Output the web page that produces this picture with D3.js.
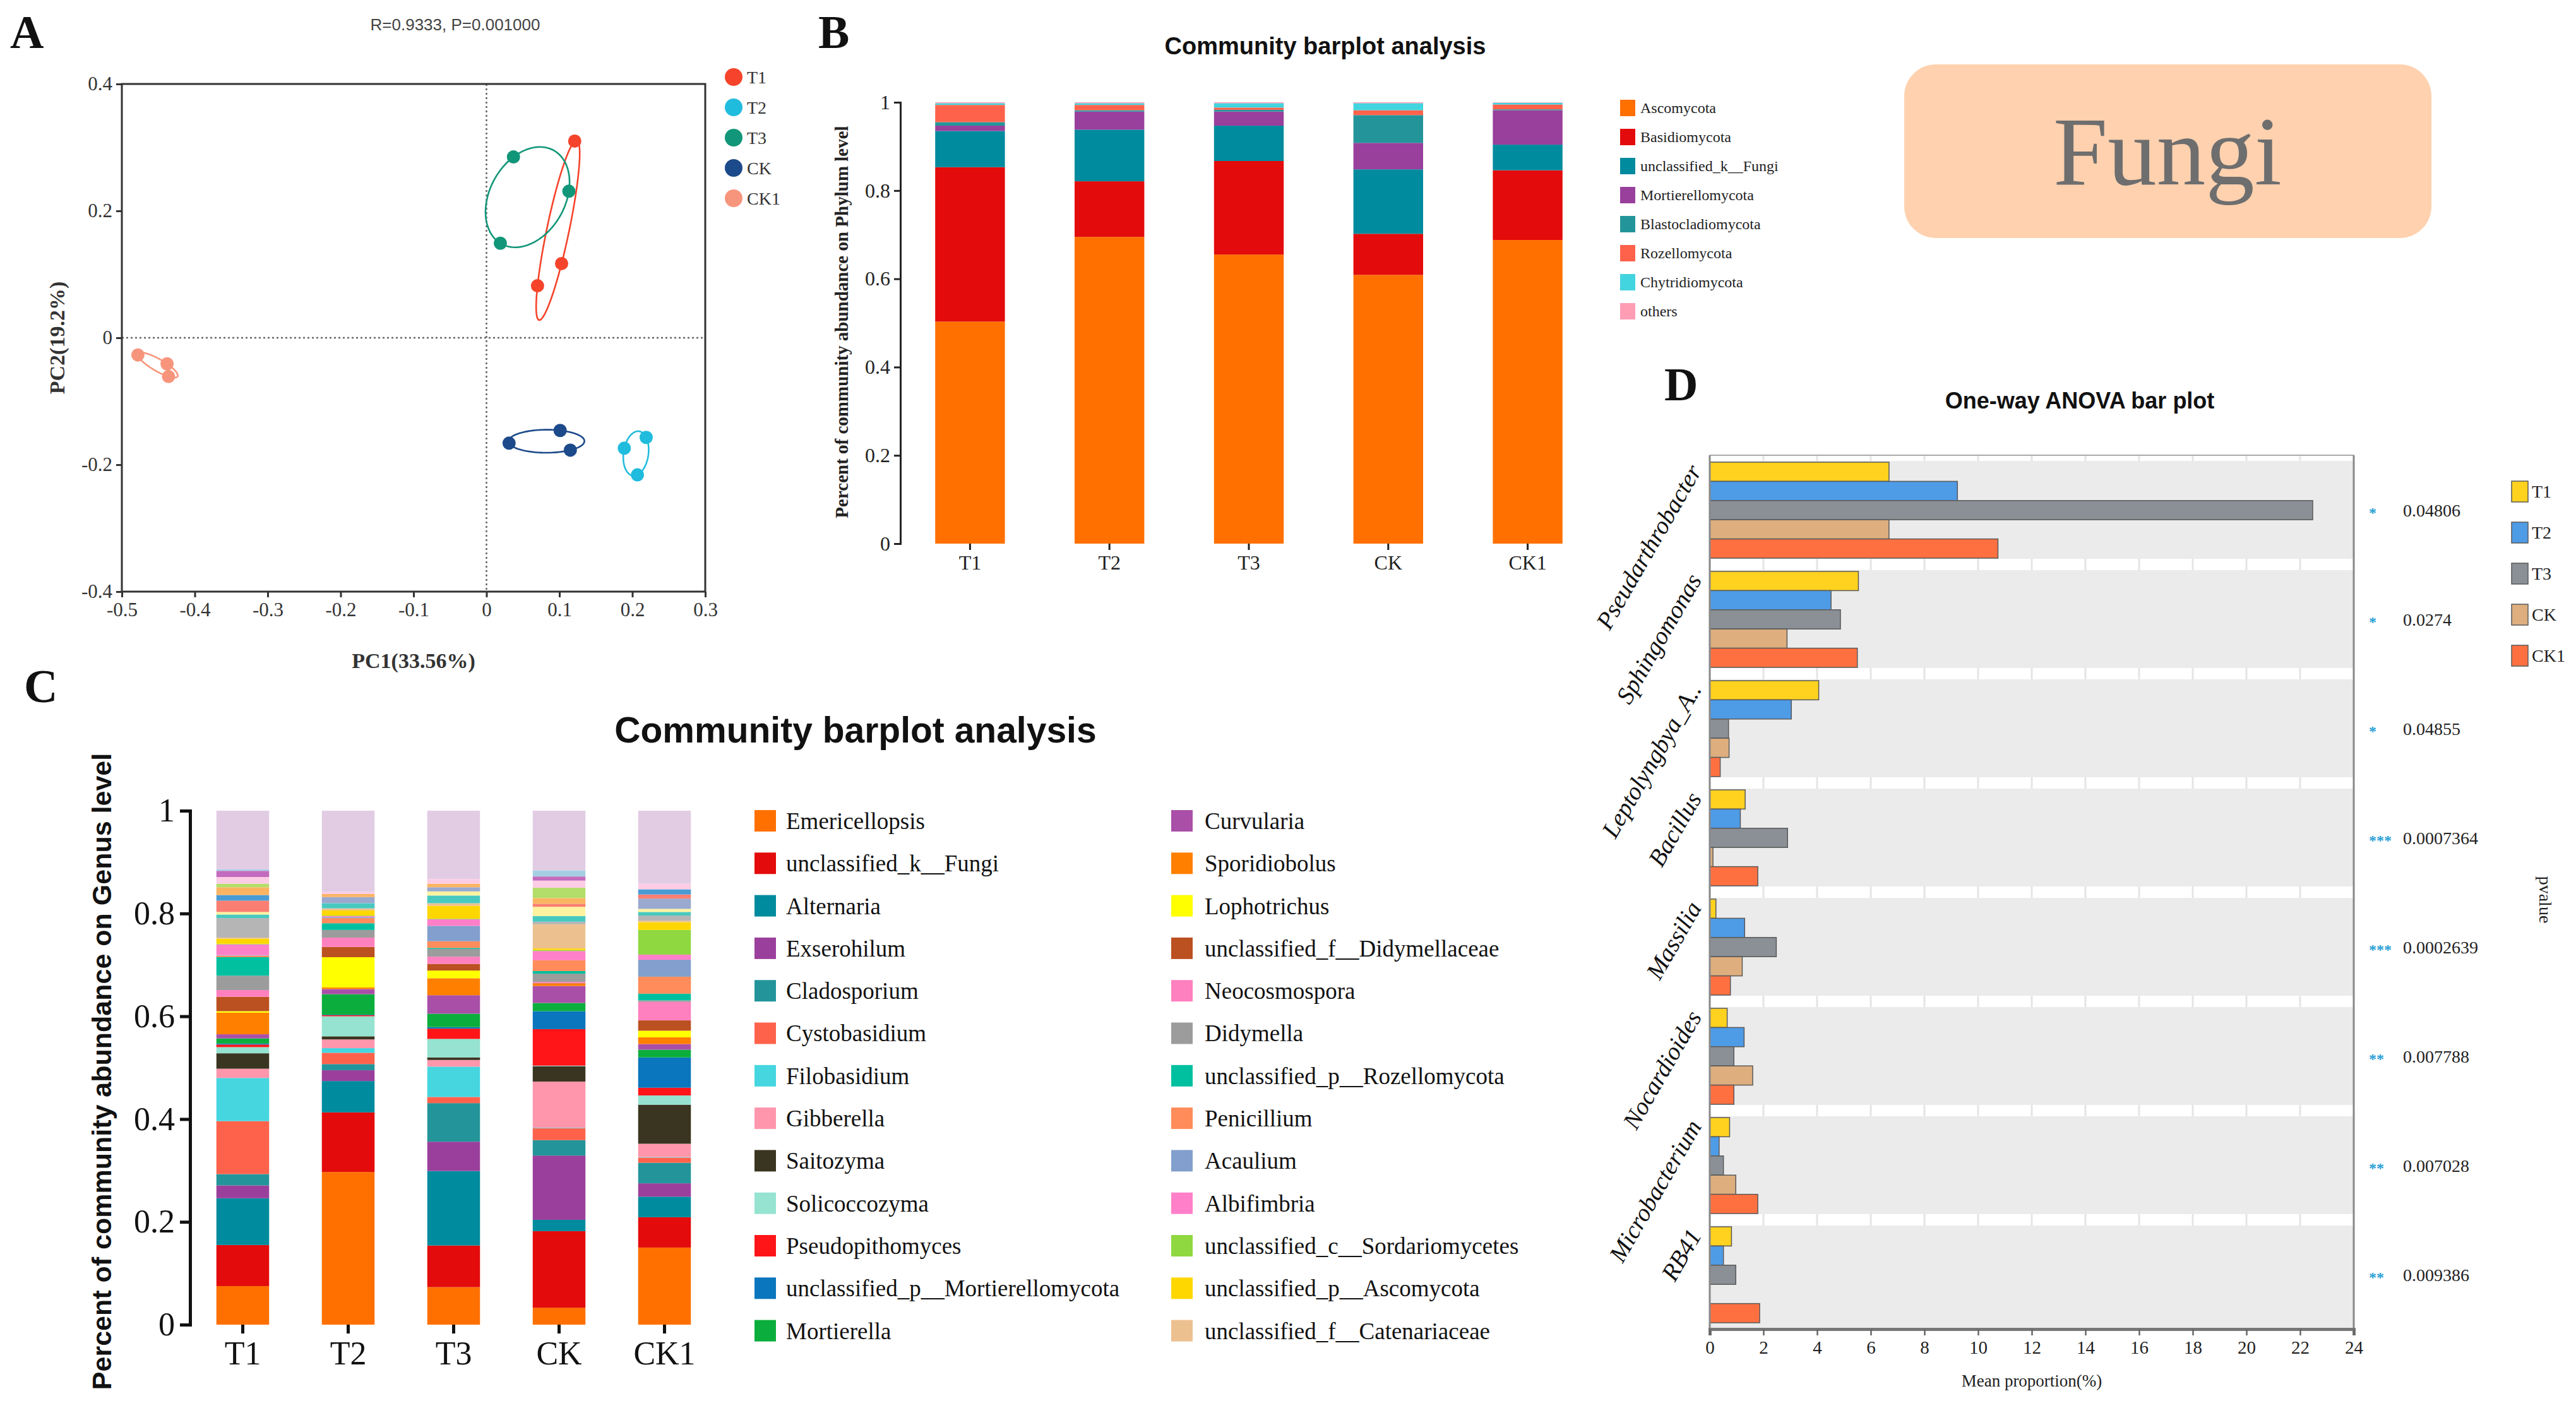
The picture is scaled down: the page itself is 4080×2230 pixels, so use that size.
<!DOCTYPE html>
<html><head><meta charset="utf-8">
<script src="https://cdn.jsdelivr.net/npm/d3@7"></script>
<style>html,body{margin:0;padding:0;background:#fff;} svg{display:block}</style>
</head><body>
<svg id="fig" width="4080" height="2230"></svg>
<script>
// ================= DATA =================
// Panel A: PCoA sample scores (PC1, PC2)
const pcaGroups = ["T1", "T2", "T3", "CK", "CK1"];
const pcaT1  = [[0.121, 0.310], [0.103, 0.117], [0.070, 0.082]];
const pcaT2  = [[0.189, -0.174], [0.219, -0.157], [0.207, -0.216]];
const pcaT3  = [[0.037, 0.285], [0.113, 0.231], [0.019, 0.149]];
const pcaCK  = [[0.031, -0.166], [0.101, -0.146], [0.115, -0.177]];
const pcaCK1 = [[-0.478, -0.027], [-0.438, -0.041], [-0.436, -0.061]];
const pcaTicksX = [-0.5, -0.4, -0.3, -0.2, -0.1, 0, 0.1, 0.2, 0.3];
const pcaTicksY = [-0.4, -0.2, 0, 0.2, 0.4];
const pcaTitle = "R=0.9333, P=0.001000";
const pcaXLabel = "PC1(33.56%)";
const pcaYLabel = "PC2(19.2%)";

// Panel B: phylum-level relative abundance
const samples = ["T1", "T2", "T3", "CK", "CK1"];
const phyla = ["Ascomycota", "Basidiomycota", "unclassified_k__Fungi", "Mortierellomycota",
  "Blastocladiomycota", "Rozellomycota", "Chytridiomycota", "others"];
const phylumT1  = [0.503, 0.350, 0.082, 0.012, 0.008, 0.039, 0.004, 0.002];
const phylumT2  = [0.695, 0.126, 0.117, 0.041, 0.003, 0.012, 0.004, 0.002];
const phylumT3  = [0.655, 0.212, 0.080, 0.032, 0.004, 0.005, 0.010, 0.002];
const phylumCK  = [0.609, 0.093, 0.146, 0.060, 0.063, 0.011, 0.016, 0.002];
const phylumCK1 = [0.688, 0.158, 0.058, 0.078, 0.002, 0.011, 0.004, 0.001];
const abundTicks = [0, 0.2, 0.4, 0.6, 0.8, 1];

// Panel C: genus-level relative abundance (26 legend genera)
const genera = ["Emericellopsis", "unclassified_k__Fungi", "Alternaria", "Exserohilum", "Cladosporium",
  "Cystobasidium", "Filobasidium", "Gibberella", "Saitozyma", "Solicoccozyma", "Pseudopithomyces",
  "unclassified_p__Mortierellomycota", "Mortierella", "Curvularia", "Sporidiobolus", "Lophotrichus",
  "unclassified_f__Didymellaceae", "Neocosmospora", "Didymella", "unclassified_p__Rozellomycota",
  "Penicillium", "Acaulium", "Albifimbria", "unclassified_c__Sordariomycetes",
  "unclassified_p__Ascomycota", "unclassified_f__Catenariaceae"];
const genusT1  = [0.075,0.080,0.091,0.025,0.022,0.103,0.084,0.018,0.030,0.012,0.005,0.002,0.010,0.008,0.042,0.003,0.028,0.013,0.028,0.036,0.003,0.001,0.021,0.001,0.010,0.002];
const genusT2  = [0.297,0.116,0.061,0.021,0.012,0.022,0.009,0.017,0.006,0.039,0.002,0.001,0.040,0.010,0.003,0.059,0.020,0.018,0.015,0.013,0.010,0.002,0.002,0.001,0.010,0.004];
const genusT3  = [0.073,0.081,0.145,0.057,0.075,0.012,0.059,0.013,0.005,0.036,0.020,0.003,0.026,0.036,0.033,0.015,0.013,0.014,0.015,0.002,0.013,0.030,0.013,0.001,0.025,0.005];
const genusCK  = [0.033,0.149,0.022,0.125,0.030,0.023,0.001,0.090,0.030,0.001,0.071,0.035,0.016,0.033,0.005,0.000,0.001,0.002,0.016,0.005,0.021,0.000,0.018,0.002,0.003,0.047];
const genusCK1 = [0.150,0.059,0.040,0.026,0.040,0.010,0.001,0.026,0.076,0.018,0.015,0.059,0.015,0.011,0.013,0.013,0.020,0.036,0.003,0.013,0.033,0.033,0.010,0.048,0.015,0.003];
// further minor genera (not listed in the legend), stacked above the legend genera
const minorT1  = [0.038,0.007,0.005,0.000,0.022,0.011,0.015,0.007,0.013,0.012,0.003];
const minorT2  = [0.000,0.010,0.000,0.012,0.000,0.000,0.006,0.000,0.004,0.000,0.000];
const minorT3  = [0.000,0.015,0.008,0.008,0.000,0.000,0.007,0.000,0.009,0.000,0.000];
const minorCK  = [0.005,0.011,0.018,0.000,0.006,0.000,0.011,0.020,0.014,0.008,0.012];
const minorCK1 = [0.010,0.007,0.006,0.020,0.008,0.010,0.000,0.000,0.011,0.000,0.000];
const genusOthers = [0.114, 0.158, 0.133, 0.116, 0.142];

// Panel D: One-way ANOVA mean proportions (%)
const anovaTaxa = ["Pseudarthrobacter", "Sphingomonas", "Leptolyngbya_A..", "Bacillus",
  "Massilia", "Nocardioides", "Microbacterium", "RB41"];
const anovaT1  = [6.68, 5.54, 4.06, 1.32, 0.23, 0.65, 0.74, 0.81];
const anovaT2  = [9.23, 4.52, 3.04, 1.14, 1.30, 1.28, 0.35, 0.51];
const anovaT3  = [22.47, 4.87, 0.70, 2.90, 2.48, 0.90, 0.51, 0.97];
const anovaCK  = [6.68, 2.88, 0.72, 0.12, 1.21, 1.60, 0.97, 0.00];
const anovaCK1 = [10.74, 5.50, 0.39, 1.79, 0.77, 0.90, 1.79, 1.86];
const pValues = ["0.04806", "0.0274", "0.04855", "0.0007364", "0.0002639", "0.007788", "0.007028", "0.009386"];
const pStars  = ["*", "*", "*", "***", "***", "**", "**", "**"];
const anovaTicks = [0,2,4,6,8,10,12,14,16,18,20,22,24];

// ================= STYLES =================
const pcaColors = ["#F5442B", "#20BCDD", "#129679", "#1D4A8A", "#F7957C"];
const phylumColors = ["#FF7000", "#E30B0B", "#008B9E", "#993F9C", "#23959A", "#FF624B", "#42D4DF", "#FF9DB4"];
const genusColors = ["#FF7000","#E30B0B","#008B9E","#9B3F9C","#23959A","#FF624B","#45D6E0","#FF96AC",
  "#3A3520","#95E3D0","#FF1518","#0A76BD","#0BAE3C","#AA4FA8","#FF7F00","#FFFF00","#BB5020","#FF80BF",
  "#9C9C9C","#00C0A0","#FF8C5A","#829FCD","#FF80C8","#8FD840","#FFD700","#EDC18F"];
const minorColors = ["#B5B5B5","#48C9C0","#FFF3A0","#9AA9CF","#FA7F72","#4A9BD4","#FDB462","#B3DE69","#FCCDE5","#C36BBE","#A6CEE3"];
const othersColor = "#E2CCE4";
const anovaColors = ["#FFD21F", "#4E9BE6", "#8A9095", "#DEAE7E", "#FF7040"];
const SERIF = "'Liberation Serif','Times New Roman',serif";
const SANS = "'Liberation Sans',Arial,sans-serif";

const svg = d3.select("#fig");
svg.append("rect").attr("width", 4080).attr("height", 2230).attr("fill", "#fff");
const fmt = d => String(+(+d).toFixed(2));

function panelLetter(t, x, y) {
  svg.append("text").attr("x", x).attr("y", y).text(t)
    .attr("font-family", SERIF).attr("font-weight", "bold").attr("font-size", 74).attr("fill", "#111");
}
panelLetter("A", 16, 76); panelLetter("B", 1296, 76); panelLetter("C", 38, 1112); panelLetter("D", 2636, 634);

// ================= PANEL A =================
(function () {
  const x = d3.scaleLinear().domain([-0.5, 0.3]).range([193, 1117]);
  const y = d3.scaleLinear().domain([-0.4, 0.4]).range([937, 133]);
  const g = svg.append("g");
  g.append("text").attr("x", 721).attr("y", 48).attr("text-anchor", "middle")
    .attr("font-family", SANS).attr("font-size", 26).attr("fill", "#444").text(pcaTitle);
  g.append("line").attr("x1", x(0)).attr("x2", x(0)).attr("y1", y(0.4)).attr("y2", y(-0.4))
    .attr("stroke", "#666").attr("stroke-width", 2.5).attr("stroke-dasharray", "3,4");
  g.append("line").attr("x1", x(-0.5)).attr("x2", x(0.3)).attr("y1", y(0)).attr("y2", y(0))
    .attr("stroke", "#666").attr("stroke-width", 2.5).attr("stroke-dasharray", "3,4");
  g.append("rect").attr("x", x(-0.5)).attr("y", y(0.4)).attr("width", x(0.3) - x(-0.5))
    .attr("height", y(-0.4) - y(0.4)).attr("fill", "none").attr("stroke", "#333").attr("stroke-width", 3);
  const ax = g.append("g").attr("transform", `translate(0,${y(-0.4)})`)
    .call(d3.axisBottom(x).tickValues(pcaTicksX).tickSize(9).tickPadding(8).tickFormat(fmt));
  const ay = g.append("g").attr("transform", `translate(${x(-0.5)},0)`)
    .call(d3.axisLeft(y).tickValues(pcaTicksY).tickSize(9).tickPadding(6).tickFormat(fmt));
  [ax, ay].forEach(a => {
    a.select(".domain").remove();
    a.selectAll("line").attr("stroke", "#333").attr("stroke-width", 3);
    a.selectAll("text").attr("font-family", SERIF).attr("font-size", 31).attr("fill", "#333");
  });
  g.append("text").attr("x", 655).attr("y", 1058).attr("text-anchor", "middle")
    .attr("font-family", SERIF).attr("font-weight", "bold").attr("font-size", 34).attr("fill", "#333").text(pcaXLabel);
  g.append("text").attr("transform", "translate(102,535) rotate(-90)").attr("text-anchor", "middle")
    .attr("font-family", SERIF).attr("font-weight", "bold").attr("font-size", 34).attr("fill", "#333").text(pcaYLabel);

  const sets = [pcaT1, pcaT2, pcaT3, pcaCK, pcaCK1];
  function steiner(pts) {
    const n = pts.length, mx = d3.mean(pts, p => p[0]), my = d3.mean(pts, p => p[1]);
    let a = 0, b = 0, c = 0;
    pts.forEach(p => { const dx = p[0] - mx, dy = p[1] - my; a += dx * dx; b += dx * dy; c += dy * dy; });
    a /= (n - 1); b /= (n - 1); c /= (n - 1);
    const l11 = Math.sqrt(a), l21 = b / l11, l22 = Math.sqrt(Math.max(c - l21 * l21, 1e-12));
    const k = Math.sqrt(2 * (n - 1) / n);
    return d3.range(0, 360, 3).map(t => {
      const r = t * Math.PI / 180, u = Math.cos(r), v = Math.sin(r);
      return [mx + k * l11 * u, my + k * (l21 * u + l22 * v)];
    });
  }
  const line = d3.line().x(d => x(d[0])).y(d => y(d[1])).curve(d3.curveLinearClosed);
  sets.forEach((pts, i) => {
    g.append("path").attr("d", line(steiner(pts))).attr("fill", "none")
      .attr("stroke", pcaColors[i]).attr("stroke-width", 2.6);
  });
  sets.forEach((pts, i) => {
    g.selectAll(null).data(pts).enter().append("circle")
      .attr("cx", d => x(d[0])).attr("cy", d => y(d[1])).attr("r", 10.5).attr("fill", pcaColors[i]);
  });
  const lg = g.append("g");
  pcaGroups.forEach((s, i) => {
    lg.append("circle").attr("cx", 1162).attr("cy", 122 + 48 * i).attr("r", 14).attr("fill", pcaColors[i]);
    lg.append("text").attr("x", 1183).attr("y", 122 + 48 * i).attr("dy", "0.35em")
      .attr("font-family", SERIF).attr("font-size", 28).attr("fill", "#333").text(s);
  });
})();

// ================= PANEL B =================
(function () {
  const rowsArr = [phylumT1, phylumT2, phylumT3, phylumCK, phylumCK1];
  const data = samples.map((s, i) => { const o = { sample: s }; phyla.forEach((p, j) => o[p] = rowsArr[i][j]); return o; });
  const x = d3.scaleBand().domain(samples).range([1426, 2530]).paddingInner(0.5).paddingOuter(0.25);
  const y = d3.scaleLinear().domain([0, 1]).range([861, 162]);
  const g = svg.append("g");
  g.append("text").attr("x", 2099).attr("y", 86).attr("text-anchor", "middle")
    .attr("font-family", SANS).attr("font-weight", "bold").attr("font-size", 38).attr("fill", "#111")
    .text("Community barplot analysis");
  const series = d3.stack().keys(phyla)(data);
  series.forEach((ser, k) => {
    g.selectAll(null).data(ser).enter().append("rect")
      .attr("x", d => x(d.data.sample)).attr("width", x.bandwidth())
      .attr("y", d => y(d[1])).attr("height", d => Math.max(0, y(d[0]) - y(d[1])))
      .attr("fill", phylumColors[k]);
  });
  const ay = g.append("g").attr("transform", "translate(1426,0)")
    .call(d3.axisLeft(y).tickValues(abundTicks).tickSize(10).tickPadding(6).tickFormat(fmt));
  ay.select(".domain").attr("stroke", "#222").attr("stroke-width", 3);
  const ax = g.append("g").attr("transform", "translate(0,861)")
    .call(d3.axisBottom(x).tickSize(10).tickPadding(8));
  ax.select(".domain").remove();
  [ax, ay].forEach(a => {
    a.selectAll("line").attr("stroke", "#222").attr("stroke-width", 3);
    a.selectAll("text").attr("font-family", SERIF).attr("font-size", 32).attr("fill", "#222");
  });
  g.append("text").attr("transform", "translate(1343,510) rotate(-90)").attr("text-anchor", "middle")
    .attr("font-family", SERIF).attr("font-weight", "bold").attr("font-size", 29).attr("fill", "#222")
    .text("Percent of community abundance on Phylum level");
  phyla.forEach((p, i) => {
    g.append("rect").attr("x", 2566).attr("y", 158 + 46 * i).attr("width", 24).attr("height", 26).attr("fill", phylumColors[i]);
    g.append("text").attr("x", 2598).attr("y", 171 + 46 * i).attr("dy", "0.35em")
      .attr("font-family", SERIF).attr("font-size", 24).attr("fill", "#222").text(p);
  });
})();

// ================= FUNGI LABEL =================
svg.append("rect").attr("x", 3016).attr("y", 102).attr("width", 835).attr("height", 275)
  .attr("rx", 50).attr("ry", 50).attr("fill", "#FFD1AE");
svg.append("text").attr("x", 3433).attr("y", 292).attr("text-anchor", "middle")
  .attr("font-family", SERIF).attr("font-size", 155).attr("fill", "#6E6E6E").text("Fungi");

// ================= PANEL C =================
(function () {
  const gArr = [genusT1, genusT2, genusT3, genusCK, genusCK1];
  const mArr = [minorT1, minorT2, minorT3, minorCK, minorCK1];
  const minorKeys = minorT1.map((_, i) => "minor" + (i + 1));
  const keys = genera.concat(minorKeys, ["others"]);
  const colors = genusColors.concat(minorColors, [othersColor]);
  const data = samples.map((s, i) => {
    const o = { sample: s };
    genera.forEach((n, j) => o[n] = gArr[i][j]);
    minorKeys.forEach((n, j) => o[n] = mArr[i][j]);
    o.others = genusOthers[i];
    return o;
  });
  const x = d3.scaleBand().domain(samples).range([301, 1136]).paddingInner(0.5).paddingOuter(0.25);
  const y = d3.scaleLinear().domain([0, 1]).range([2098, 1284]);
  const g = svg.append("g");
  g.append("text").attr("x", 1355).attr("y", 1176).attr("text-anchor", "middle")
    .attr("font-family", SANS).attr("font-weight", "bold").attr("font-size", 57).attr("fill", "#111")
    .text("Community barplot analysis");
  const series = d3.stack().keys(keys)(data);
  series.forEach((ser, k) => {
    g.selectAll(null).data(ser).enter().append("rect")
      .attr("x", d => x(d.data.sample)).attr("width", x.bandwidth())
      .attr("y", d => y(d[1])).attr("height", d => Math.max(0, y(d[0]) - y(d[1])))
      .attr("fill", colors[k]);
  });
  const ay = g.append("g").attr("transform", "translate(301,0)")
    .call(d3.axisLeft(y).tickValues(abundTicks).tickSize(16).tickPadding(8).tickFormat(fmt));
  ay.select(".domain").attr("stroke", "#111").attr("stroke-width", 5);
  const ax = g.append("g").attr("transform", "translate(0,2098)")
    .call(d3.axisBottom(x).tickSize(14).tickPadding(12));
  ax.select(".domain").remove();
  [ax, ay].forEach(a => {
    a.selectAll("line").attr("stroke", "#111").attr("stroke-width", 5);
    a.selectAll("text").attr("font-family", SERIF).attr("font-size", 52).attr("fill", "#111");
  });
  g.append("text").attr("transform", "translate(176,1697) rotate(-90)").attr("text-anchor", "middle")
    .attr("font-family", SANS).attr("font-weight", "bold").attr("font-size", 43).attr("fill", "#111")
    .text("Percent of community abundance on Genus level");
  genera.forEach((n, i) => {
    const col = i < 13 ? 0 : 1, row = i % 13;
    const sx = col === 0 ? 1195 : 1855, tx = col === 0 ? 1245 : 1908;
    const cy = 1300 + 67.3 * row;
    g.append("rect").attr("x", sx).attr("y", cy - 17).attr("width", 34).attr("height", 34).attr("fill", genusColors[i]);
    g.append("text").attr("x", tx).attr("y", cy).attr("dy", "0.35em")
      .attr("font-family", SERIF).attr("font-size", 37).attr("fill", "#111").text(n);
  });
})();

// ================= PANEL D =================
(function () {
  const X0 = 2708, X1 = 3728, Y0 = 721, Y1 = 2105;
  const vals = [anovaT1, anovaT2, anovaT3, anovaCK, anovaCK1];
  const x = d3.scaleLinear().domain([0, 24]).range([X0, X1]);
  const yg = d3.scaleBand().domain(anovaTaxa).range([Y0, Y1]);
  const step = yg.step();
  const yi = d3.scaleBand().domain(samples).range([11, 163]);
  const g = svg.append("g");
  g.append("text").attr("x", 3294).attr("y", 647).attr("text-anchor", "middle")
    .attr("font-family", SANS).attr("font-weight", "bold").attr("font-size", 36).attr("fill", "#111")
    .text("One-way ANOVA bar plot");
  g.append("rect").attr("x", X0).attr("y", Y0).attr("width", X1 - X0).attr("height", Y1 - Y0).attr("fill", "#EBEBEB");
  // white separators between taxa groups
  const seps = d3.range(0, anovaTaxa.length).map(i => Y0 + i * step);
  seps.forEach((sy, i) => {
    const top = i === 0 ? Y0 : sy - 9, bot = sy + 9;
    g.append("rect").attr("x", X0).attr("y", top).attr("width", X1 - X0).attr("height", bot - top).attr("fill", "#fff");
    anovaTicks.slice(1, -1).forEach(t => {
      g.append("line").attr("x1", x(t)).attr("x2", x(t)).attr("y1", top).attr("y2", bot)
        .attr("stroke", "#E4E4E4").attr("stroke-width", 3);
    });
  });
  anovaTaxa.forEach((tax, gi) => {
    const gy = yg(tax);
    samples.forEach((s, si) => {
      g.append("rect").attr("x", x(0)).attr("y", gy + yi(s)).attr("width", x(vals[si][gi]) - x(0))
        .attr("height", yi.bandwidth()).attr("fill", anovaColors[si])
        .attr("stroke", "#5a5a5a").attr("stroke-width", 1.5);
    });
    const cy = gy + step / 2;
    g.append("text").attr("transform", `translate(${X0 - 12},${cy - 62}) rotate(-60)`).attr("text-anchor", "end")
      .attr("font-family", SERIF).attr("font-style", "italic").attr("font-size", 39).attr("fill", "#111").text(tax);
    g.append("text").attr("x", 3752).attr("y", cy + 12).attr("font-family", SERIF).attr("font-size", 24)
      .attr("fill", "#2A9FD6").attr("font-weight", "bold").text(pStars[gi]);
    g.append("text").attr("x", 3806).attr("y", cy + 10).attr("font-family", SERIF).attr("font-size", 28)
      .attr("fill", "#222").text(pValues[gi]);
  });
  // frame
  g.append("line").attr("x1", X0).attr("x2", X1).attr("y1", Y0).attr("y2", Y0).attr("stroke", "#aaa").attr("stroke-width", 2);
  g.append("line").attr("x1", X1).attr("x2", X1).attr("y1", Y0).attr("y2", Y1).attr("stroke", "#888").attr("stroke-width", 3);
  g.append("line").attr("x1", X0).attr("x2", X0).attr("y1", Y0).attr("y2", Y1).attr("stroke", "#888").attr("stroke-width", 3);
  const ax = g.append("g").attr("transform", `translate(0,${Y1})`)
    .call(d3.axisBottom(x).tickValues(anovaTicks).tickSize(10).tickPadding(8).tickFormat(fmt));
  ax.select(".domain").attr("stroke", "#777").attr("stroke-width", 5);
  ax.selectAll("line").attr("stroke", "#666").attr("stroke-width", 2.5);
  ax.selectAll("text").attr("font-family", SERIF).attr("font-size", 29).attr("fill", "#222");
  g.append("text").attr("x", 3218).attr("y", 2196).attr("text-anchor", "middle")
    .attr("font-family", SERIF).attr("font-size", 27).attr("fill", "#222").text("Mean proportion(%)");
  g.append("text").attr("transform", "translate(4022,1425) rotate(90)").attr("text-anchor", "middle")
    .attr("font-family", SERIF).attr("font-size", 28).attr("fill", "#222").text("pvalue");
  samples.forEach((s, i) => {
    g.append("rect").attr("x", 3978).attr("y", 762 + 65 * i).attr("width", 26).attr("height", 33)
      .attr("fill", anovaColors[i]).attr("stroke", "#5a5a5a").attr("stroke-width", 1.5);
    g.append("text").attr("x", 4010).attr("y", 778 + 65 * i).attr("dy", "0.35em")
      .attr("font-family", SERIF).attr("font-size", 28).attr("fill", "#222").text(s);
  });
})();
</script>
</body></html>
